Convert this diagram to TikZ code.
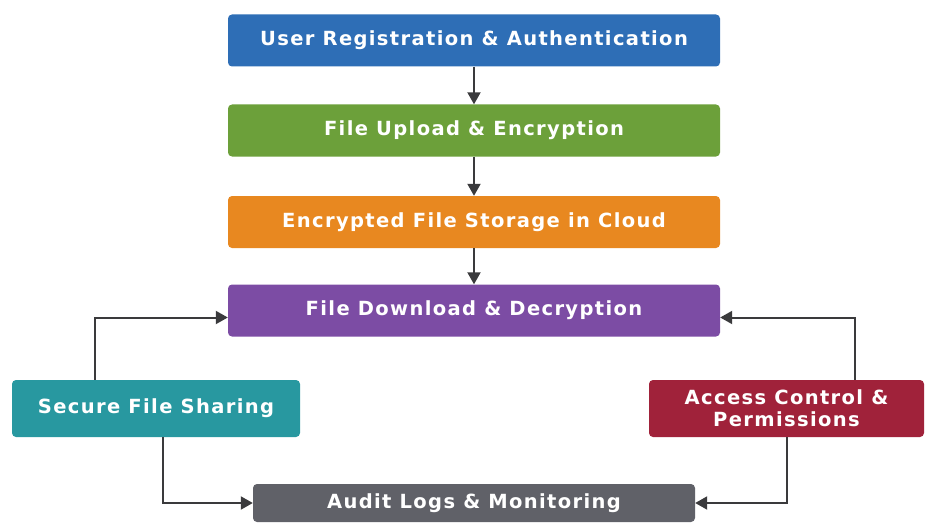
\documentclass[tikz,border=0pt]{standalone}
\usepackage{fontspec}
\setmainfont{Open Sans}
\usetikzlibrary{arrows.meta}
\definecolor{regblue}{RGB}{46,110,182}
\definecolor{upgreen}{RGB}{108,160,58}
\definecolor{storeorange}{RGB}{232,136,32}
\definecolor{downpurple}{RGB}{124,76,164}
\definecolor{shareteal}{RGB}{40,152,160}
\definecolor{accessred}{RGB}{160,34,58}
\definecolor{auditgray}{RGB}{96,97,104}
\definecolor{arrowgray}{RGB}{58,58,60}
\newfontfamily\boxfont[LetterSpace=7]{DejaVu Sans}
\begin{document}
\begin{tikzpicture}[x=1pt, y=-1pt,
    stage/.style={rounded corners=4pt, minimum width=492pt, minimum height=52pt, inner sep=0pt,
      text=white, align=center, font=\boxfont\bfseries\fontsize{19.5}{22}\selectfont},
    flow/.style={draw=arrowgray, line width=2pt, -{Triangle[length=12pt,width=13pt]}}]
  \useasboundingbox (0,0) rectangle (926,524);
  % main column
  \node[stage, fill=regblue] (reg) at (474,40.5) {User Registration \& Authentication};
  \node[stage, fill=upgreen] (upl) at (474,130.5) {File Upload \& Encryption};
  \node[stage, fill=storeorange] (store) at (474,222) {Encrypted File Storage in Cloud};
  \node[stage, fill=downpurple] (down) at (474,310.5) {File Download \& Decryption};
  % side boxes
  \node[stage, fill=shareteal, minimum width=288pt, minimum height=57pt] (share) at (156,408.5) {Secure File Sharing};
  \node[stage, fill=accessred, minimum width=275pt, minimum height=57pt] (access) at (786.5,408.5) {Access Control \&\\Permissions};
  \node[stage, fill=auditgray, minimum width=442pt, minimum height=38pt] (audit) at (474,503) {Audit Logs \& Monitoring};
  % arrows
  \draw[flow] (reg) -- (upl);
  \draw[flow] (upl) -- (store);
  \draw[flow] (store) -- (down);
  \draw[flow] ([xshift=-61pt]share.north) |- ([yshift=-7pt]down.west);
  \draw[flow] ([xshift=7pt]share.south) |- (audit.west);
  \draw[flow] ([xshift=68.5pt]access.north) |- ([yshift=-7pt]down.east);
  \draw[flow] (access.south) |- (audit.east);
\end{tikzpicture}
\end{document}
